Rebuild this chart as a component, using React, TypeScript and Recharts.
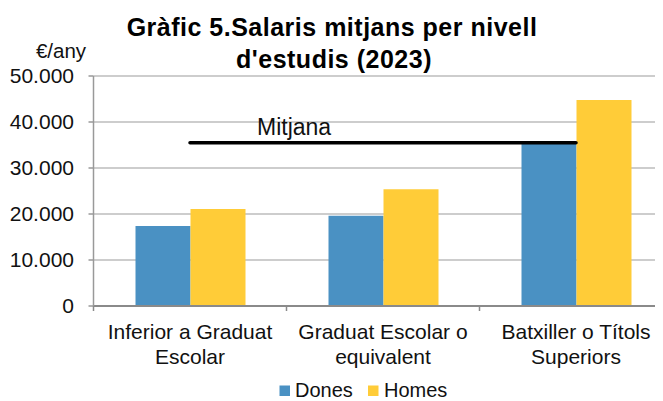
import React from 'react';
import { ComposedChart, Bar, Line, XAxis, YAxis, CartesianGrid } from 'recharts';

const CATEGORIES = ['Inferior a Graduat Escolar', 'Graduat Escolar o equivalent', 'Batxiller o Títols Superiors'];
const TICK_LINES = [
  ['Inferior a Graduat', 'Escolar'],
  ['Graduat Escolar o', 'equivalent'],
  ['Batxiller o Títols', 'Superiors'],
];
const DONES = [17400, 19600, 35400];
const HOMES = [21100, 25400, 44800];
const MITJANA = [35500, 35500, 35500];
const Y_TICKS = [0, 10000, 20000, 30000, 40000, 50000];

const FONT = '"Liberation Sans", Arial, sans-serif';
const BLUE = '#4A91C3';
const YELLOW = '#FFCC38';

// plot is wider than the visible window: the original picture is cropped on the right
const CHART_W = 680;
const CHART_H = 393;
const MARGIN = { top: 68, right: 15.5, bottom: 35, left: 0 };
const Y_AXIS_W = 85.5;
const BAND = (CHART_W - MARGIN.right - MARGIN.left - Y_AXIS_W) / CATEGORIES.length;

const data = CATEGORIES.map((name, i) => ({
  name,
  dones: DONES[i],
  homes: HOMES[i],
  mitjana: MITJANA[i],
}));

const fmt = (v: number) => String(v).replace(/\B(?=(\d{3})+(?!\d))/g, '.');

const CategoryTick = (props: any) => {
  const { x, y, index } = props;
  const lines = TICK_LINES[index] || [];
  return (
    <g>
      <line x1={x - BAND / 2} x2={x - BAND / 2} y1={y} y2={y + 5} stroke="#8a8a8a" strokeWidth={1.5} />
      {lines.map((t: string, i: number) => (
        <text key={i} x={x} y={y + 33.3 + i * 25} textAnchor="middle" fontSize={21} fontFamily={FONT} fill="#111">
          {t}
        </text>
      ))}
    </g>
  );
};

const MitjanaLabel = (props: any) => {
  const { x, y, index } = props;
  if (index !== 0) return null;
  return (
    <text x={x + 67} y={y - 7.7} fontSize={23} fontFamily={FONT} fill="#111">
      Mitjana
    </text>
  );
};

export default function App() {
  return (
    <div style={{ position: 'relative', width: 655, height: CHART_H, overflow: 'hidden' }}>
      <ComposedChart width={CHART_W} height={CHART_H} data={data} margin={MARGIN} barGap={0}>
        <CartesianGrid horizontal vertical={false} stroke="#bdbdbd" strokeWidth={1.5} />
        <XAxis
          dataKey="name"
          height={60}
          interval={0}
          tickSize={0}
          tickMargin={0}
          tickLine={false}
          axisLine={{ stroke: '#8a8a8a', strokeWidth: 2 }}
          tick={(p: any) => <CategoryTick {...p} />}
        />
        <YAxis
          width={Y_AXIS_W}
          domain={[0, 50000]}
          ticks={Y_TICKS}
          interval={0}
          tickFormatter={fmt}
          tickSize={5}
          tickMargin={14.5}
          axisLine={{ stroke: '#999', strokeWidth: 1.5 }}
          tickLine={{ stroke: '#999', strokeWidth: 1.5 }}
          tick={{ fontSize: 21, fontFamily: FONT, fill: '#111' }}
        />
        <Bar dataKey="dones" name="Dones" fill={BLUE} barSize={55} isAnimationActive={false} />
        <Bar dataKey="homes" name="Homes" fill={YELLOW} barSize={55} isAnimationActive={false} />
        <Line
          type="linear"
          dataKey="mitjana"
          name="Mitjana"
          stroke="#000"
          strokeWidth={3.5}
          strokeLinecap="round"
          dot={false}
          activeDot={false}
          label={(p: any) => <MitjanaLabel {...p} />}
          isAnimationActive={false}
        />
      </ComposedChart>
      <svg
        width={655}
        height={CHART_H}
        viewBox={`8 8 655 ${CHART_H}`}
        style={{ position: 'absolute', left: 0, top: 0, pointerEvents: 'none' }}
        fontFamily={FONT}
      >
        <text x={332} y={36} textAnchor="middle" fontSize={25} fontWeight="bold" letterSpacing={0.5} fill="#000">
          Gràfic 5.Salaris mitjans per nivell
        </text>
        <text x={334} y={67.5} textAnchor="middle" fontSize={25} fontWeight="bold" letterSpacing={0.5} fill="#000">
          d'estudis (2023)
        </text>
        <text x={61} y={57.7} textAnchor="middle" fontSize={20.5} fill="#111">
          €/any
        </text>
        <rect x={279.5} y={385.5} width={10.5} height={10.5} fill={BLUE} />
        <text x={295} y={397.3} fontSize={20} fill="#111">Dones</text>
        <rect x={368} y={385.5} width={10.5} height={10.5} fill={YELLOW} />
        <text x={384} y={397.3} fontSize={20} fill="#111">Homes</text>
      </svg>
    </div>
  );
}
